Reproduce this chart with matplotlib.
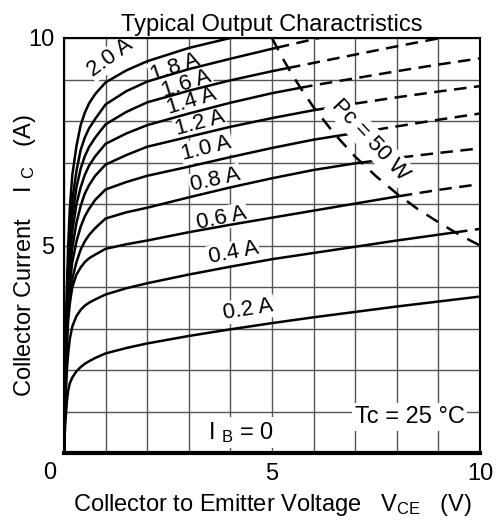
import numpy as np
import matplotlib
matplotlib.use("Agg")
import matplotlib.pyplot as plt

plt.rcParams['font.family'] = ['Liberation Sans', 'DejaVu Sans']
plt.rcParams['mathtext.fontset'] = 'custom'
plt.rcParams['mathtext.rm'] = 'Liberation Sans'
plt.rcParams['mathtext.it'] = 'Liberation Sans'

# ---- data ----
VCE = [0, 0.03, 0.07, 0.1, 0.14, 0.2, 0.3, 0.4, 0.5, 0.6, 0.75, 1.0, 1.5, 2, 3, 4, 5, 6, 7, 8, 9, 10]

IB_LABELS = ["2.0 A", "1.8 A", "1.6 A", "1.4 A", "1.2 A", "1.0 A", "0.8 A", "0.6 A", "0.4 A", "0.2 A"]

IC_20 = [0, 2.0, 4.0, 5.0, 5.9, 6.7, 7.4, 7.9, 8.2, 8.42, 8.65, 8.93, 9.22, 9.44, 9.76, 10.0, 10.25, 10.5, 10.7, 10.9, 11.1, 11.3]
IC_18 = [0, 1.9, 3.7, 4.5, 5.3, 6.1, 6.8, 7.3, 7.6, 7.82, 8.05, 8.40, 8.72, 8.95, 9.25, 9.50, 9.74, 9.97, 10.2, 10.4, 10.6, 10.8]
IC_16 = [0, 1.8, 3.5, 4.3, 5.0, 5.7, 6.4, 6.85, 7.15, 7.37, 7.6, 7.92, 8.22, 8.45, 8.73, 8.98, 9.20, 9.40, 9.60, 9.80, 9.99, 10.18]
IC_14 = [0, 1.7, 3.3, 4.1, 4.7, 5.35, 6.0, 6.4, 6.7, 6.92, 7.15, 7.45, 7.70, 7.90, 8.18, 8.44, 8.67, 8.86, 9.03, 9.20, 9.36, 9.51]
IC_12 = [0, 1.6, 3.2, 3.9, 4.4, 4.95, 5.55, 5.95, 6.25, 6.45, 6.68, 6.95, 7.18, 7.38, 7.62, 7.86, 8.07, 8.26, 8.42, 8.57, 8.71, 8.84]
IC_10 = [0, 1.5, 3.0, 3.6, 4.1, 4.6, 5.1, 5.45, 5.7, 5.88, 6.1, 6.35, 6.53, 6.68, 6.90, 7.13, 7.35, 7.55, 7.71, 7.87, 8.03, 8.18]
IC_08 = [0, 1.4, 2.8, 3.4, 3.8, 4.2, 4.6, 4.9, 5.1, 5.25, 5.42, 5.65, 5.80, 5.91, 6.16, 6.40, 6.62, 6.82, 6.98, 7.11, 7.23, 7.34]
IC_06 = [0, 1.3, 2.6, 3.2, 3.6, 4.0, 4.3, 4.47, 4.6, 4.69, 4.78, 4.92, 5.03, 5.12, 5.32, 5.50, 5.67, 5.84, 6.01, 6.18, 6.34, 6.48]
IC_04 = [0, 1.1, 2.0, 2.4, 2.75, 3.05, 3.3, 3.45, 3.55, 3.62, 3.70, 3.82, 3.97, 4.09, 4.30, 4.49, 4.67, 4.82, 4.97, 5.12, 5.26, 5.40]
IC_02 = [0, 0.7, 1.25, 1.5, 1.68, 1.82, 1.97, 2.07, 2.15, 2.21, 2.29, 2.40, 2.53, 2.64, 2.82, 2.98, 3.13, 3.27, 3.40, 3.53, 3.65, 3.77]

IB0_V = [0, 10]
IB0_I = [0, 0]

PC_W = 50
PC_V = [5.0, 5.25, 5.5, 5.75, 6.0, 6.5, 7.0, 7.5, 8.0, 8.5, 9.0, 9.5, 10.0]
PC_I = [10.0, 9.52, 9.09, 8.70, 8.33, 7.69, 7.14, 6.67, 6.25, 5.88, 5.56, 5.26, 5.0]

# label anchor positions (data coords) and rotation
LBL_X = [1.12, 2.67, 2.95, 3.07, 3.27, 3.43, 3.63, 3.79, 4.07, 4.43]
LBL_Y = [9.52, 9.30, 8.90, 8.47, 7.94, 7.34, 6.58, 5.66, 4.82, 3.46]
LBL_R = [36, 19, 18, 17, 15, 14, 13, 12, 11, 9]

CURVES = [IC_20, IC_18, IC_16, IC_14, IC_12, IC_10, IC_08, IC_06, IC_04, IC_02]

FS = 17

fig = plt.figure(figsize=(4.96, 5.22), dpi=100)
ax = fig.add_axes([64/496, (522-453)/522, 416/496, 415/522])
ax.set_xlim(0, 10)
ax.set_ylim(0, 10)

ax.set_xticks(range(0, 11))
ax.set_yticks(range(0, 11))
ax.set_xticklabels(['' if v not in (5, 10) else str(v) for v in range(11)])
ax.set_yticklabels(['' if v not in (5, 10) else str(v) for v in range(11)])
ax.tick_params(length=0, labelsize=FS, pad=7)
ax.grid(True, color='#555555', lw=1.0, zorder=0)
ax.set_axisbelow(True)
for s in ax.spines.values():
    s.set_linewidth(1.5)

lw = 1.8
dash = (0, (5.0, 3.0))


def split_power(v, i, pmax):
    v = np.asarray(v, float)
    i = np.asarray(i, float)
    p = v * i
    idx = np.where(p > pmax)[0]
    if len(idx) == 0:
        return (v, i), None
    k = idx[0]
    t = (pmax - p[k-1]) / (p[k] - p[k-1])
    vc = v[k-1] + t * (v[k] - v[k-1])
    ic = i[k-1] + t * (i[k] - i[k-1])
    solid = (np.r_[v[:k], vc], np.r_[i[:k], ic])
    dashed = (np.r_[vc, v[k:]], np.r_[ic, i[k:]])
    return solid, dashed


for ic in CURVES:
    solid, dashed = split_power(VCE, ic, PC_W)
    ax.plot(solid[0], solid[1], color='black', lw=lw, zorder=3,
            solid_joinstyle='round', solid_capstyle='butt')
    if dashed is not None:
        ax.plot(dashed[0], dashed[1], color='black', lw=lw, ls=dash, zorder=3)

ax.plot(IB0_V, IB0_I, color='black', lw=3.0, zorder=4, clip_on=False)

ax.plot(PC_V, PC_I, color='black', lw=1.8, ls=(0, (5.5, 4.0)), zorder=3)

for lab, x, y, r in zip(IB_LABELS, LBL_X, LBL_Y, LBL_R):
    ax.text(x, y, lab, rotation=r, rotation_mode='anchor', ha='center', va='center',
            fontsize=16, zorder=2.5,
            bbox=dict(boxstyle='square,pad=0.05', fc='white', ec='none'))

ax.text(7.36, 7.55, 'Pc = 50 W', rotation=-47, rotation_mode='anchor', ha='center', va='center',
        fontsize=16, zorder=5, bbox=dict(boxstyle='square,pad=0.12', fc='white', ec='none'))

ax.text(8.31, 0.87, 'Tc = 25 °C', ha='center', va='center', fontsize=FS, zorder=5,
        bbox=dict(boxstyle='square,pad=0.12', fc='white', ec='none'))
ax.text(4.25, 0.50, r'I $_{\mathrm{B}}$ = 0', ha='center', va='center', fontsize=FS, zorder=5,
        bbox=dict(boxstyle='square,pad=0.12', fc='white', ec='none'))

ax.text(-0.34, -0.48, '0', ha='center', va='center', fontsize=FS, clip_on=False)

ax.set_title('Typical Output Charactristics', fontsize=FS, pad=5)
ax.set_xlabel(r'Collector to Emitter Voltage   V$_{\mathrm{CE}}$   (V)', fontsize=FS)
ax.set_ylabel(r'Collector Current    I $_{\mathrm{C}}$   (A)', fontsize=FS)
ax.xaxis.set_label_coords(0.5, -0.094)
ax.yaxis.set_label_coords(-0.062, 0.475)

fig.savefig('out.png', dpi=100)
